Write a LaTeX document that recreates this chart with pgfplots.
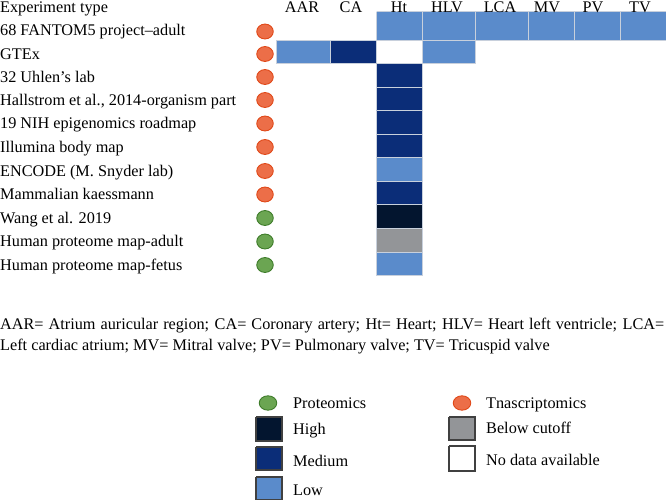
\documentclass[border=0pt]{standalone}
\usepackage{fontspec}
\setmainfont{Liberation Serif}
\usepackage{pgfplots}
\pgfplotsset{compat=1.18}

\definecolor{low}{HTML}{5A8BCB}
\definecolor{medium}{HTML}{0B2D78}
\definecolor{high}{HTML}{03152F}
\definecolor{cutoff}{HTML}{939598}
\definecolor{orangef}{HTML}{EC6E48}
\definecolor{oranged}{HTML}{E04818}
\definecolor{greenf}{HTML}{6BA552}
\definecolor{greend}{HTML}{3E7C2A}
\definecolor{cellline}{HTML}{C8D0DC}

\tikzset{lbl/.style={font=\fontsize{16.3}{19}\selectfont, inner sep=0pt, anchor=base west}}

% heat cell: x0 x1 y0 y1 colour
\newcommand\cell[5]{\addplot[fill=#5,draw=cellline,line width=0.7pt]
  coordinates {(#1,#3) (#2,#3) (#2,#4) (#1,#4) (#1,#3)};}
% legend key box
\newcommand\keybox[5]{\addplot[fill=#5,draw=black!75,line width=1.2pt]
  coordinates {(#1,#3) (#2,#3) (#2,#4) (#1,#4) (#1,#3)};}

\begin{document}
\begin{tikzpicture}
\begin{axis}[
  scale only axis, width=666bp, height=500bp,
  xmin=0, xmax=666, ymin=0, ymax=500, y dir=reverse,
  hide axis, clip=false,
]
% --- cells (columns: AAR CA Ht HLV LCA MV PV TV)
% FANTOM5
\cell{376.5}{422}{11.7}{40}{low}
\cell{422}{475}{11.7}{40}{low}
\cell{475}{528}{11.7}{40}{low}
\cell{528}{574}{11.7}{40}{low}
\cell{574}{620}{11.7}{40}{low}
\cell{620}{666}{11.7}{40}{low}
% GTEx
\cell{276}{330}{40}{63.5}{low}
\cell{330}{376.5}{40}{63.5}{medium}
\cell{422}{475}{40}{63.5}{low}
% Ht column
\cell{376.5}{422}{63.5}{87}{medium}
\cell{376.5}{422}{87}{110.5}{medium}
\cell{376.5}{422}{110.5}{134}{medium}
\cell{376.5}{422}{134}{157.5}{medium}
\cell{376.5}{422}{157.5}{181}{low}
\cell{376.5}{422}{181}{204.5}{medium}
\cell{376.5}{422}{204.5}{228}{high}
\cell{376.5}{422}{228}{252}{cutoff}
\cell{376.5}{422}{252}{275.5}{low}

% --- data type circles
\addplot[only marks, mark=*, mark size=8.3,
  mark options={fill=orangef, draw=oranged, line width=0.9pt, yscale=0.9}]
  coordinates {(265,31.5) (265,54) (265,77) (265,100) (265,123.5)
               (265,147) (265,171) (265,194.5)};
\addplot[only marks, mark=*, mark size=8.3,
  mark options={fill=greenf, draw=greend, line width=0.9pt, yscale=0.9}]
  coordinates {(265,218) (265,241.5) (265,265)};

% --- row labels
\node[lbl] at (axis cs:0,12.3) {Experiment type};
\node[lbl] at (axis cs:0,35) {68 FANTOM5 project--adult};
\node[lbl] at (axis cs:0,59) {GTEx};
\node[lbl] at (axis cs:0,82) {32 Uhlen's lab};
\node[lbl] at (axis cs:0,105) {Hallstrom et al., 2014-organism part};
\node[lbl] at (axis cs:0,128.5) {19 NIH epigenomics roadmap};
\node[lbl] at (axis cs:0,152) {Illumina body map};
\node[lbl] at (axis cs:0,176) {ENCODE (M. Snyder lab)};
\node[lbl] at (axis cs:0,199.5) {Mammalian kaessmann};
\node[lbl] at (axis cs:0,223) {Wang et al. 2019};
\node[lbl] at (axis cs:0,246.5) {Human proteome map-adult};
\node[lbl] at (axis cs:0,270) {Human proteome map-fetus};

% --- column headers
\node[lbl, anchor=base] at (axis cs:302,12.3) {AAR};
\node[lbl, anchor=base] at (axis cs:351,12.3) {CA};
\node[lbl, anchor=base] at (axis cs:399,12.3) {Ht};
\node[lbl, anchor=base] at (axis cs:447,12.3) {HLV};
\node[lbl, anchor=base] at (axis cs:500,12.3) {LCA};
\node[lbl, anchor=base] at (axis cs:547,12.3) {MV};
\node[lbl, anchor=base] at (axis cs:593,12.3) {PV};
\node[lbl, anchor=base] at (axis cs:640,12.3) {TV};

% --- abbreviations
\node[lbl] at (axis cs:0,329)
  {\makebox[664bp][s]{AAR= Atrium auricular region; CA= Coronary artery; Ht= Heart; HLV= Heart left ventricle; LCA=}};
\node[lbl] at (axis cs:0,350)
  {Left cardiac atrium; MV= Mitral valve; PV= Pulmonary valve; TV= Tricuspid valve};

% --- legend
\addplot[only marks, mark=*, mark size=8.8,
  mark options={fill=greenf, draw=greend, line width=0.9pt, yscale=0.82}]
  coordinates {(268,403)};
\addplot[only marks, mark=*, mark size=8.8,
  mark options={fill=orangef, draw=oranged, line width=0.9pt, yscale=0.82}]
  coordinates {(462,403)};
\keybox{256}{282}{417}{441}{high}
\keybox{256}{282}{447}{470}{medium}
\keybox{256}{282}{477}{500}{low}
\keybox{449}{475}{417}{440}{cutoff}
\keybox{449}{475}{446}{471}{white}
\node[lbl] at (axis cs:293,408) {Proteomics};
\node[lbl] at (axis cs:293,434) {High};
\node[lbl] at (axis cs:293,466) {Medium};
\node[lbl] at (axis cs:293,495) {Low};
\node[lbl] at (axis cs:486,408) {Tnascriptomics};
\node[lbl] at (axis cs:486,433) {Below cutoff};
\node[lbl] at (axis cs:486,465) {No data available};
\end{axis}
\pgfresetboundingbox
\path[use as bounding box] (0,0) rectangle (666bp,500bp);
\end{tikzpicture}
\end{document}
